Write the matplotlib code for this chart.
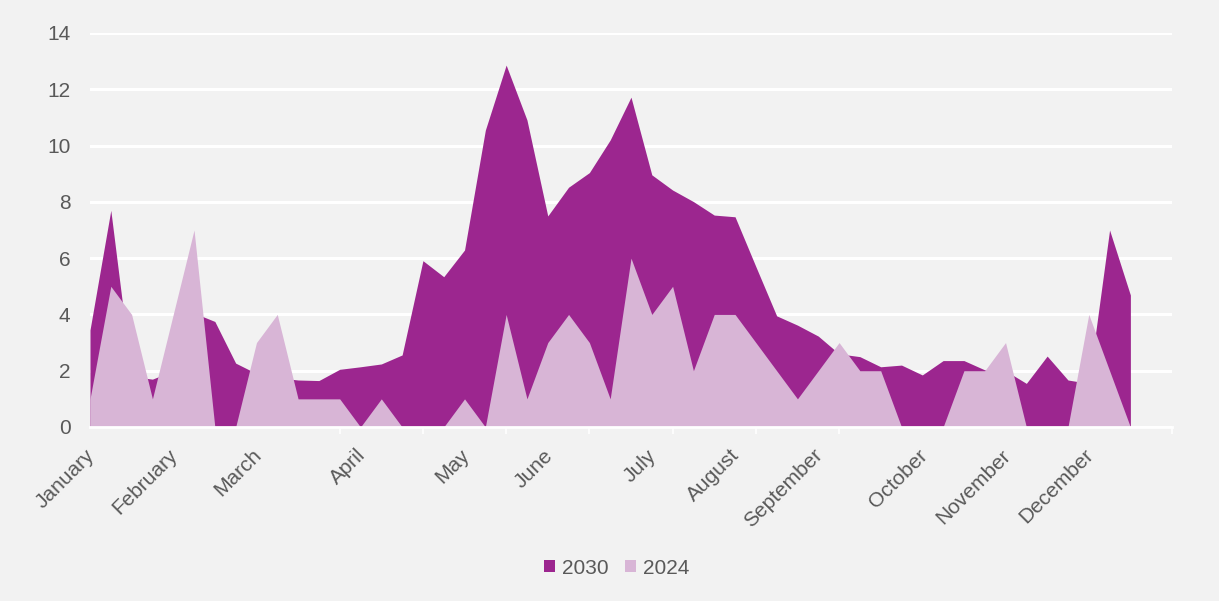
import matplotlib
matplotlib.use("Agg")
import matplotlib.pyplot as plt
import matplotlib.transforms as mtransforms
from matplotlib.patches import Patch
import numpy as np

plt.rcParams['font.family'] = ['Liberation Sans', 'DejaVu Sans']

# ---- data ----
series_2030 = [3.45, 7.7, 1.8, 1.7, 2.0, 4.05, 3.75, 2.27, 1.9, 1.75,
               1.67, 1.65, 2.05, 2.14, 2.24, 2.56, 5.91, 5.34, 6.29, 10.55,
               12.86, 10.91, 7.5, 8.52, 9.04, 10.2, 11.72, 8.96, 8.42, 8.01,
               7.53, 7.47, 5.7, 3.95, 3.62, 3.23, 2.6, 2.5, 2.14, 2.2,
               1.85, 2.36, 2.36, 2.03, 2.0, 1.55, 2.52, 1.67, 1.55, 7.0,
               4.69]
series_2024 = [1, 5, 4, 1, 4, 7, 0, 0, 3, 4,
               1, 1, 1, 0, 1, 0, 0, 0, 1, 0,
               4, 1, 3, 4, 3, 1, 6, 4, 5, 2,
               4, 4, 3, 2, 1, 2, 3, 2, 2, 0,
               0, 0, 2, 2, 3, 0, 0, 0, 4, 2,
               0]
month_names = ['January', 'February', 'March', 'April', 'May', 'June',
               'July', 'August', 'September', 'October', 'November', 'December']
month_start_week = [0, 4, 8, 13, 18, 22, 27, 31, 35, 40, 44, 48]
n_categories = 53
y_ticks = [0, 2, 4, 6, 8, 10, 12, 14]

c2030 = '#9c268f'
c2024 = '#d8b5d6'
bg = '#f2f2f2'
txt = '#595959'
fs = 15

fig = plt.figure(figsize=(12.19, 6.01), dpi=100, facecolor=bg)
ax = fig.add_axes([90/1219, 1 - 427/601, (1172-90)/1219, (427-33)/601])
ax.set_facecolor(bg)

x30 = np.arange(len(series_2030))
x24 = np.arange(len(series_2024))
ax.fill_between(x30, 0, series_2030, color=c2030, linewidth=0, zorder=2)
ax.fill_between(x24, 0, series_2024, color=c2024, linewidth=0, zorder=3)

ax.set_xlim(0, n_categories - 1)
ax.set_ylim(0, 14)
ax.set_yticks(y_ticks)
ax.set_yticklabels([str(v) for v in y_ticks])
ax.grid(axis='y', color='white', linewidth=2.2, zorder=1)
ax.set_axisbelow(True)

ax.set_xticks(month_start_week)
ax.set_xticklabels(month_names, rotation=45, ha='right', rotation_mode='anchor')
ax.set_xticks(np.arange(0, n_categories, 4), minor=True)
ax.tick_params(axis='x', which='major', length=0, pad=12, labelsize=fs, labelcolor=txt)
ax.tick_params(axis='x', which='minor', length=5, width=1.2, color='white', direction='out')
ax.tick_params(axis='y', length=0, pad=14, labelsize=fs, labelcolor=txt)

offset = mtransforms.ScaledTranslation(-5/100, -2/100, fig.dpi_scale_trans)
for lbl in ax.get_xticklabels():
    lbl.set_transform(lbl.get_transform() + offset)

for s in ['top', 'right', 'left']:
    ax.spines[s].set_visible(False)
ax.spines['bottom'].set_color('white')
ax.spines['bottom'].set_linewidth(2)
ax.spines['bottom'].set_zorder(4)

handles = [Patch(facecolor=c2030, label='2030'), Patch(facecolor=c2024, label='2024')]
leg = fig.legend(handles=handles, loc='center', bbox_to_anchor=(617/1219, 1 - 568/601),
                 ncol=2, frameon=False, fontsize=fs, handlelength=0.5, handleheight=0.5,
                 handletextpad=0.35, columnspacing=0.8)
for t in leg.get_texts():
    t.set_color(txt)

fig.savefig('out.png', dpi=100, facecolor=bg)
